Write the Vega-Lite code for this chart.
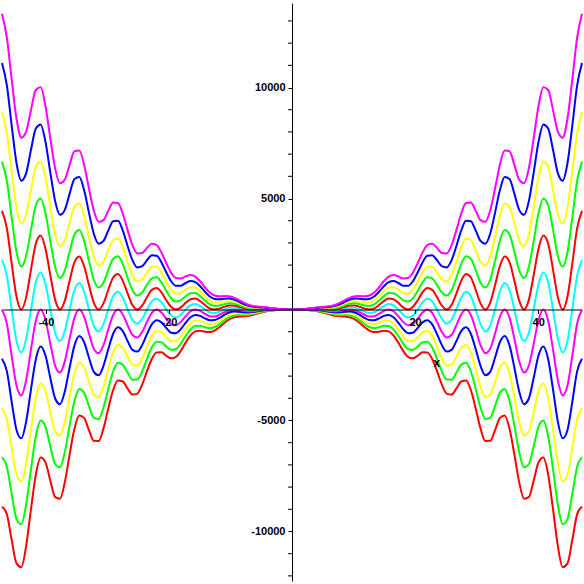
{
  "$schema": "https://vega.github.io/schema/vega-lite/v6.json",
  "width": 578,
  "height": 578,
  "padding": 3,
  "autosize": {"type": "none"},
  "background": "white",
  "config": {
    "view": {"stroke": null},
    "axis": {"grid": false, "domainColor": "black", "tickColor": "black", "labelColor": "black", "labelFont": "Liberation Sans", "labelFontWeight": "bold", "labelFontSize": 11, "title": null, "labelOverlap": false, "labelFlush": false, "zindex": 1}
  },
  "datasets": {
    "curves": [
      {"x":-47.1239,"a":-8883,"b":-6662,"c":-4441,"d":-2221,"e":0,"f":2221,"g":4441,"h":6662,"i":8883,"j":11103,"k":13324},
      {"x":-46.3385,"a":-9218,"b":-7071,"c":-4923,"d":-2776,"e":-629,"f":1518,"g":3666,"h":5813,"i":7960,"j":10107,"k":12255},
      {"x":-45.5531,"a":-10375,"b":-8300,"c":-6225,"d":-4150,"e":-2075,"f":0,"g":2075,"h":4150,"i":6225,"j":8300,"k":10375},
      {"x":-44.7677,"a":-11438,"b":-9434,"c":-7430,"d":-5425,"e":-3421,"f":-1417,"g":587,"h":2591,"i":4595,"j":6599,"k":8604},
      {"x":-43.9823,"a":-11607,"b":-9672,"c":-7738,"d":-5803,"e":-3869,"f":-1934,"g":0,"h":1934,"i":3869,"j":5803,"k":7738},
      {"x":-43.1969,"a":-10649,"b":-8783,"c":-6917,"d":-5051,"e":-3185,"f":-1319,"g":547,"h":2413,"i":4278,"j":6144,"k":8010},
      {"x":-42.4115,"a":-8994,"b":-7195,"c":-5396,"d":-3597,"e":-1799,"f":0,"g":1799,"h":3597,"i":5396,"j":7195,"k":8994},
      {"x":-41.6261,"a":-7438,"b":-5706,"c":-3973,"d":-2240,"e":-508,"f":1225,"g":2958,"h":4691,"i":6423,"j":8156,"k":9889},
      {"x":-40.8407,"a":-6672,"b":-5004,"c":-3336,"d":-1668,"e":0,"f":1668,"g":3336,"h":5004,"i":6672,"j":8340,"k":10008},
      {"x":-40.0553,"a":-6888,"b":-5283,"c":-3679,"d":-2074,"e":-470,"f":1135,"g":2739,"h":4343,"i":5948,"j":7552,"k":9157},
      {"x":-39.2699,"a":-7711,"b":-6169,"c":-4626,"d":-3084,"e":-1542,"f":0,"g":1542,"h":3084,"i":4626,"j":6169,"k":7711},
      {"x":-38.4845,"a":-8453,"b":-6972,"c":-5490,"d":-4009,"e":-2528,"f":-1047,"g":434,"h":1915,"i":3396,"j":4877,"k":6358},
      {"x":-37.6991,"a":-8527,"b":-7106,"c":-5685,"d":-4264,"e":-2842,"f":-1421,"g":0,"h":1421,"i":2842,"j":4264,"k":5685},
      {"x":-36.9137,"a":-7777,"b":-6414,"c":-5051,"d":-3689,"e":-2326,"f":-964,"g":399,"h":1762,"i":3124,"j":4487,"k":5850},
      {"x":-36.1283,"a":-6526,"b":-5221,"c":-3916,"d":-2611,"e":-1305,"f":0,"g":1305,"h":2611,"i":3916,"j":5221,"k":6526},
      {"x":-35.3429,"a":-5362,"b":-4113,"c":-2864,"d":-1615,"e":-366,"f":883,"g":2132,"h":3382,"i":4631,"j":5880,"k":7129},
      {"x":-34.5575,"a":-4777,"b":-3583,"c":-2388,"d":-1194,"e":0,"f":1194,"g":2388,"h":3583,"i":4777,"j":5971,"k":7165},
      {"x":-33.7721,"a":-4896,"b":-3756,"c":-2615,"d":-1475,"e":-334,"f":806,"g":1947,"h":3088,"i":4228,"j":5369,"k":6509},
      {"x":-32.9867,"a":-5441,"b":-4352,"c":-3264,"d":-2176,"e":-1088,"f":0,"g":1088,"h":2176,"i":3264,"j":4352,"k":5441},
      {"x":-32.2013,"a":-5918,"b":-4881,"c":-3844,"d":-2807,"e":-1770,"f":-733,"g":304,"h":1341,"i":2378,"j":3414,"k":4451},
      {"x":-31.4159,"a":-5922,"b":-4935,"c":-3948,"d":-2961,"e":-1974,"f":-987,"g":0,"h":987,"i":1974,"j":2961,"k":3948},
      {"x":-30.6305,"a":-5355,"b":-4416,"c":-3478,"d":-2540,"e":-1602,"f":-663,"g":275,"h":1213,"i":2151,"j":3089,"k":4028},
      {"x":-29.8451,"a":-4454,"b":-3563,"c":-2672,"d":-1781,"e":-891,"f":0,"g":891,"h":1781,"i":2672,"j":3563,"k":4454},
      {"x":-29.0597,"a":-3625,"b":-2781,"c":-1936,"d":-1092,"e":-247,"f":597,"g":1442,"h":2286,"i":3131,"j":3975,"k":4819},
      {"x":-28.2743,"a":-3198,"b":-2398,"c":-1599,"d":-799,"e":0,"f":799,"g":1599,"h":2398,"i":3198,"j":3997,"k":4797},
      {"x":-27.4889,"a":-3244,"b":-2488,"c":-1733,"d":-977,"e":-221,"f":534,"g":1290,"h":2046,"i":2801,"j":3557,"k":4313},
      {"x":-26.7035,"a":-3565,"b":-2852,"c":-2139,"d":-1426,"e":-713,"f":0,"g":713,"h":1426,"i":2139,"j":2852,"k":3565},
      {"x":-25.9181,"a":-3834,"b":-3162,"c":-2490,"d":-1819,"e":-1147,"f":-475,"g":197,"h":869,"i":1540,"j":2212,"k":2884},
      {"x":-25.1327,"a":-3790,"b":-3158,"c":-2527,"d":-1895,"e":-1263,"f":-632,"g":0,"h":632,"i":1263,"j":1895,"k":2527},
      {"x":-24.3473,"a":-3383,"b":-2790,"c":-2198,"d":-1605,"e":-1012,"f":-419,"g":174,"h":766,"i":1359,"j":1952,"k":2545},
      {"x":-23.5619,"a":-2776,"b":-2221,"c":-1665,"d":-1110,"e":-555,"f":0,"g":555,"h":1110,"i":1665,"j":2221,"k":2776},
      {"x":-22.7765,"a":-2227,"b":-1708,"c":-1189,"d":-671,"e":-152,"f":367,"g":886,"h":1404,"i":1923,"j":2442,"k":2961},
      {"x":-21.9911,"a":-1934,"b":-1451,"c":-967,"d":-484,"e":0,"f":484,"g":967,"h":1451,"i":1934,"j":2418,"k":2902},
      {"x":-21.2058,"a":-1930,"b":-1481,"c":-1031,"d":-581,"e":-132,"f":318,"g":768,"h":1217,"i":1667,"j":2117,"k":2566},
      {"x":-20.4204,"a":-2085,"b":-1668,"c":-1251,"d":-834,"e":-417,"f":0,"g":417,"h":834,"i":1251,"j":1668,"k":2085},
      {"x":-19.635,"a":-2200,"b":-1815,"c":-1429,"d":-1044,"e":-658,"f":-273,"g":113,"h":498,"i":884,"j":1270,"k":1655},
      {"x":-18.8496,"a":-2132,"b":-1777,"c":-1421,"d":-1066,"e":-711,"f":-355,"g":0,"h":355,"i":711,"j":1066,"k":1421},
      {"x":-18.0642,"a":-1862,"b":-1536,"c":-1210,"d":-883,"e":-557,"f":-231,"g":96,"h":422,"i":748,"j":1075,"k":1401},
      {"x":-17.2788,"a":-1493,"b":-1194,"c":-896,"d":-597,"e":-299,"f":0,"g":299,"h":597,"i":896,"j":1194,"k":1493},
      {"x":-16.4934,"a":-1168,"b":-896,"c":-624,"d":-352,"e":-80,"f":192,"g":464,"h":736,"i":1008,"j":1280,"k":1553},
      {"x":-15.708,"a":-987,"b":-740,"c":-493,"d":-247,"e":0,"f":247,"g":493,"h":740,"i":987,"j":1234,"k":1480},
      {"x":-14.9226,"a":-956,"b":-733,"c":-511,"d":-288,"e":-65,"f":157,"g":380,"h":603,"i":826,"j":1048,"k":1271},
      {"x":-14.1372,"a":-999,"b":-799,"c":-600,"d":-400,"e":-200,"f":0,"g":200,"h":400,"i":600,"j":799,"k":999},
      {"x":-13.3518,"a":-1017,"b":-839,"c":-661,"d":-483,"e":-304,"f":-126,"g":52,"h":230,"i":409,"j":587,"k":765},
      {"x":-12.5664,"a":-947,"b":-790,"c":-632,"d":-474,"e":-316,"f":-158,"g":0,"h":158,"i":316,"j":474,"k":632},
      {"x":-11.781,"a":-792,"b":-653,"c":-515,"d":-376,"e":-237,"f":-98,"g":41,"h":179,"i":318,"j":457,"k":596},
      {"x":-10.9956,"a":-605,"b":-484,"c":-363,"d":-242,"e":-121,"f":0,"g":121,"h":242,"i":363,"j":484,"k":605},
      {"x":-10.2102,"a":-448,"b":-343,"c":-239,"d":-135,"e":-31,"f":74,"g":178,"h":282,"i":386,"j":491,"k":595},
      {"x":-9.4248,"a":-355,"b":-266,"c":-178,"d":-89,"e":0,"f":89,"g":178,"h":266,"i":355,"j":444,"k":533},
      {"x":-8.6394,"a":-320,"b":-246,"c":-171,"d":-97,"e":-22,"f":53,"g":127,"h":202,"i":277,"j":351,"k":426},
      {"x":-7.854,"a":-308,"b":-247,"c":-185,"d":-123,"e":-62,"f":0,"g":62,"h":123,"i":185,"j":247,"k":308},
      {"x":-7.0686,"a":-285,"b":-235,"c":-185,"d":-135,"e":-85,"f":-35,"g":15,"h":65,"i":115,"j":165,"k":214},
      {"x":-6.2832,"a":-237,"b":-197,"c":-158,"d":-118,"e":-79,"f":-39,"g":0,"h":39,"i":79,"j":118,"k":158},
      {"x":-5.4978,"a":-172.5,"b":-142.3,"c":-112.1,"d":-81.8,"e":-51.6,"f":-21.4,"g":8.9,"h":39.1,"i":69.3,"j":99.5,"k":129.8},
      {"x":-4.7124,"a":-111,"b":-88.8,"c":-66.6,"d":-44.4,"e":-22.2,"f":0,"g":22.2,"h":44.4,"i":66.6,"j":88.8,"k":111},
      {"x":-3.927,"a":-66.2,"b":-50.8,"c":-35.4,"d":-19.9,"e":-4.5,"f":10.9,"g":26.3,"h":41.8,"i":57.2,"j":72.6,"k":88},
      {"x":-3.1416,"a":-39.5,"b":-29.6,"c":-19.7,"d":-9.9,"e":0,"f":9.9,"g":19.7,"h":29.6,"i":39.5,"j":49.3,"k":59.2},
      {"x":-2.3562,"a":-23.8,"b":-18.3,"c":-12.7,"d":-7.2,"e":-1.6,"f":3.9,"g":9.5,"h":15,"i":20.6,"j":26.1,"k":31.7},
      {"x":-1.5708,"a":-12.3,"b":-9.9,"c":-7.4,"d":-4.9,"e":-2.5,"f":0,"g":2.5,"h":4.9,"i":7.4,"j":9.9,"k":12.3},
      {"x":-0.7854,"a":-3.5,"b":-2.9,"c":-2.3,"d":-1.7,"e":-1.1,"f":-0.4,"g":0.2,"h":0.8,"i":1.4,"j":2,"k":2.6},
      {"x":0,"a":0,"b":0,"c":0,"d":0,"e":0,"f":0,"g":0,"h":0,"i":0,"j":0,"k":0},
      {"x":0.7854,"a":-3.5,"b":-2.9,"c":-2.3,"d":-1.7,"e":-1.1,"f":-0.4,"g":0.2,"h":0.8,"i":1.4,"j":2,"k":2.6},
      {"x":1.5708,"a":-12.3,"b":-9.9,"c":-7.4,"d":-4.9,"e":-2.5,"f":0,"g":2.5,"h":4.9,"i":7.4,"j":9.9,"k":12.3},
      {"x":2.3562,"a":-23.8,"b":-18.3,"c":-12.7,"d":-7.2,"e":-1.6,"f":3.9,"g":9.5,"h":15,"i":20.6,"j":26.1,"k":31.7},
      {"x":3.1416,"a":-39.5,"b":-29.6,"c":-19.7,"d":-9.9,"e":0,"f":9.9,"g":19.7,"h":29.6,"i":39.5,"j":49.3,"k":59.2},
      {"x":3.927,"a":-66.2,"b":-50.8,"c":-35.4,"d":-19.9,"e":-4.5,"f":10.9,"g":26.3,"h":41.8,"i":57.2,"j":72.6,"k":88},
      {"x":4.7124,"a":-111,"b":-88.8,"c":-66.6,"d":-44.4,"e":-22.2,"f":0,"g":22.2,"h":44.4,"i":66.6,"j":88.8,"k":111},
      {"x":5.4978,"a":-172.5,"b":-142.3,"c":-112.1,"d":-81.8,"e":-51.6,"f":-21.4,"g":8.9,"h":39.1,"i":69.3,"j":99.5,"k":129.8},
      {"x":6.2832,"a":-237,"b":-197,"c":-158,"d":-118,"e":-79,"f":-39,"g":0,"h":39,"i":79,"j":118,"k":158},
      {"x":7.0686,"a":-285,"b":-235,"c":-185,"d":-135,"e":-85,"f":-35,"g":15,"h":65,"i":115,"j":165,"k":214},
      {"x":7.854,"a":-308,"b":-247,"c":-185,"d":-123,"e":-62,"f":0,"g":62,"h":123,"i":185,"j":247,"k":308},
      {"x":8.6394,"a":-320,"b":-246,"c":-171,"d":-97,"e":-22,"f":53,"g":127,"h":202,"i":277,"j":351,"k":426},
      {"x":9.4248,"a":-355,"b":-266,"c":-178,"d":-89,"e":0,"f":89,"g":178,"h":266,"i":355,"j":444,"k":533},
      {"x":10.2102,"a":-448,"b":-343,"c":-239,"d":-135,"e":-31,"f":74,"g":178,"h":282,"i":386,"j":491,"k":595},
      {"x":10.9956,"a":-605,"b":-484,"c":-363,"d":-242,"e":-121,"f":0,"g":121,"h":242,"i":363,"j":484,"k":605},
      {"x":11.781,"a":-792,"b":-653,"c":-515,"d":-376,"e":-237,"f":-98,"g":41,"h":179,"i":318,"j":457,"k":596},
      {"x":12.5664,"a":-947,"b":-790,"c":-632,"d":-474,"e":-316,"f":-158,"g":0,"h":158,"i":316,"j":474,"k":632},
      {"x":13.3518,"a":-1017,"b":-839,"c":-661,"d":-483,"e":-304,"f":-126,"g":52,"h":230,"i":409,"j":587,"k":765},
      {"x":14.1372,"a":-999,"b":-799,"c":-600,"d":-400,"e":-200,"f":0,"g":200,"h":400,"i":600,"j":799,"k":999},
      {"x":14.9226,"a":-956,"b":-733,"c":-511,"d":-288,"e":-65,"f":157,"g":380,"h":603,"i":826,"j":1048,"k":1271},
      {"x":15.708,"a":-987,"b":-740,"c":-493,"d":-247,"e":0,"f":247,"g":493,"h":740,"i":987,"j":1234,"k":1480},
      {"x":16.4934,"a":-1168,"b":-896,"c":-624,"d":-352,"e":-80,"f":192,"g":464,"h":736,"i":1008,"j":1280,"k":1553},
      {"x":17.2788,"a":-1493,"b":-1194,"c":-896,"d":-597,"e":-299,"f":0,"g":299,"h":597,"i":896,"j":1194,"k":1493},
      {"x":18.0642,"a":-1862,"b":-1536,"c":-1210,"d":-883,"e":-557,"f":-231,"g":96,"h":422,"i":748,"j":1075,"k":1401},
      {"x":18.8496,"a":-2132,"b":-1777,"c":-1421,"d":-1066,"e":-711,"f":-355,"g":0,"h":355,"i":711,"j":1066,"k":1421},
      {"x":19.635,"a":-2200,"b":-1815,"c":-1429,"d":-1044,"e":-658,"f":-273,"g":113,"h":498,"i":884,"j":1270,"k":1655},
      {"x":20.4204,"a":-2085,"b":-1668,"c":-1251,"d":-834,"e":-417,"f":0,"g":417,"h":834,"i":1251,"j":1668,"k":2085},
      {"x":21.2058,"a":-1930,"b":-1481,"c":-1031,"d":-581,"e":-132,"f":318,"g":768,"h":1217,"i":1667,"j":2117,"k":2566},
      {"x":21.9911,"a":-1934,"b":-1451,"c":-967,"d":-484,"e":0,"f":484,"g":967,"h":1451,"i":1934,"j":2418,"k":2902},
      {"x":22.7765,"a":-2227,"b":-1708,"c":-1189,"d":-671,"e":-152,"f":367,"g":886,"h":1404,"i":1923,"j":2442,"k":2961},
      {"x":23.5619,"a":-2776,"b":-2221,"c":-1665,"d":-1110,"e":-555,"f":0,"g":555,"h":1110,"i":1665,"j":2221,"k":2776},
      {"x":24.3473,"a":-3383,"b":-2790,"c":-2198,"d":-1605,"e":-1012,"f":-419,"g":174,"h":766,"i":1359,"j":1952,"k":2545},
      {"x":25.1327,"a":-3790,"b":-3158,"c":-2527,"d":-1895,"e":-1263,"f":-632,"g":0,"h":632,"i":1263,"j":1895,"k":2527},
      {"x":25.9181,"a":-3834,"b":-3162,"c":-2490,"d":-1819,"e":-1147,"f":-475,"g":197,"h":869,"i":1540,"j":2212,"k":2884},
      {"x":26.7035,"a":-3565,"b":-2852,"c":-2139,"d":-1426,"e":-713,"f":0,"g":713,"h":1426,"i":2139,"j":2852,"k":3565},
      {"x":27.4889,"a":-3244,"b":-2488,"c":-1733,"d":-977,"e":-221,"f":534,"g":1290,"h":2046,"i":2801,"j":3557,"k":4313},
      {"x":28.2743,"a":-3198,"b":-2398,"c":-1599,"d":-799,"e":0,"f":799,"g":1599,"h":2398,"i":3198,"j":3997,"k":4797},
      {"x":29.0597,"a":-3625,"b":-2781,"c":-1936,"d":-1092,"e":-247,"f":597,"g":1442,"h":2286,"i":3131,"j":3975,"k":4819},
      {"x":29.8451,"a":-4454,"b":-3563,"c":-2672,"d":-1781,"e":-891,"f":0,"g":891,"h":1781,"i":2672,"j":3563,"k":4454},
      {"x":30.6305,"a":-5355,"b":-4416,"c":-3478,"d":-2540,"e":-1602,"f":-663,"g":275,"h":1213,"i":2151,"j":3089,"k":4028},
      {"x":31.4159,"a":-5922,"b":-4935,"c":-3948,"d":-2961,"e":-1974,"f":-987,"g":0,"h":987,"i":1974,"j":2961,"k":3948},
      {"x":32.2013,"a":-5918,"b":-4881,"c":-3844,"d":-2807,"e":-1770,"f":-733,"g":304,"h":1341,"i":2378,"j":3414,"k":4451},
      {"x":32.9867,"a":-5441,"b":-4352,"c":-3264,"d":-2176,"e":-1088,"f":0,"g":1088,"h":2176,"i":3264,"j":4352,"k":5441},
      {"x":33.7721,"a":-4896,"b":-3756,"c":-2615,"d":-1475,"e":-334,"f":806,"g":1947,"h":3088,"i":4228,"j":5369,"k":6509},
      {"x":34.5575,"a":-4777,"b":-3583,"c":-2388,"d":-1194,"e":0,"f":1194,"g":2388,"h":3583,"i":4777,"j":5971,"k":7165},
      {"x":35.3429,"a":-5362,"b":-4113,"c":-2864,"d":-1615,"e":-366,"f":883,"g":2132,"h":3382,"i":4631,"j":5880,"k":7129},
      {"x":36.1283,"a":-6526,"b":-5221,"c":-3916,"d":-2611,"e":-1305,"f":0,"g":1305,"h":2611,"i":3916,"j":5221,"k":6526},
      {"x":36.9137,"a":-7777,"b":-6414,"c":-5051,"d":-3689,"e":-2326,"f":-964,"g":399,"h":1762,"i":3124,"j":4487,"k":5850},
      {"x":37.6991,"a":-8527,"b":-7106,"c":-5685,"d":-4264,"e":-2842,"f":-1421,"g":0,"h":1421,"i":2842,"j":4264,"k":5685},
      {"x":38.4845,"a":-8453,"b":-6972,"c":-5490,"d":-4009,"e":-2528,"f":-1047,"g":434,"h":1915,"i":3396,"j":4877,"k":6358},
      {"x":39.2699,"a":-7711,"b":-6169,"c":-4626,"d":-3084,"e":-1542,"f":0,"g":1542,"h":3084,"i":4626,"j":6169,"k":7711},
      {"x":40.0553,"a":-6888,"b":-5283,"c":-3679,"d":-2074,"e":-470,"f":1135,"g":2739,"h":4343,"i":5948,"j":7552,"k":9157},
      {"x":40.8407,"a":-6672,"b":-5004,"c":-3336,"d":-1668,"e":0,"f":1668,"g":3336,"h":5004,"i":6672,"j":8340,"k":10008},
      {"x":41.6261,"a":-7438,"b":-5706,"c":-3973,"d":-2240,"e":-508,"f":1225,"g":2958,"h":4691,"i":6423,"j":8156,"k":9889},
      {"x":42.4115,"a":-8994,"b":-7195,"c":-5396,"d":-3597,"e":-1799,"f":0,"g":1799,"h":3597,"i":5396,"j":7195,"k":8994},
      {"x":43.1969,"a":-10649,"b":-8783,"c":-6917,"d":-5051,"e":-3185,"f":-1319,"g":547,"h":2413,"i":4278,"j":6144,"k":8010},
      {"x":43.9823,"a":-11607,"b":-9672,"c":-7738,"d":-5803,"e":-3869,"f":-1934,"g":0,"h":1934,"i":3869,"j":5803,"k":7738},
      {"x":44.7677,"a":-11438,"b":-9434,"c":-7430,"d":-5425,"e":-3421,"f":-1417,"g":587,"h":2591,"i":4595,"j":6599,"k":8604},
      {"x":45.5531,"a":-10375,"b":-8300,"c":-6225,"d":-4150,"e":-2075,"f":0,"g":2075,"h":4150,"i":6225,"j":8300,"k":10375},
      {"x":46.3385,"a":-9218,"b":-7071,"c":-4923,"d":-2776,"e":-629,"f":1518,"g":3666,"h":5813,"i":7960,"j":10107,"k":12255},
      {"x":47.1239,"a":-8883,"b":-6662,"c":-4441,"d":-2221,"e":0,"f":2221,"g":4441,"h":6662,"i":8883,"j":11103,"k":13324}
    ],
    "lbl": [{"x": 23.53, "y": -2424, "t": "x"}],
    "yticks": [
      {"x": 0, "y": -12000}, {"x": 0, "y": -11000}, {"x": 0, "y": -9000}, {"x": 0, "y": -8000}, {"x": 0, "y": -7000},
      {"x": 0, "y": -6000}, {"x": 0, "y": -4000}, {"x": 0, "y": -3000}, {"x": 0, "y": -2000}, {"x": 0, "y": -1000},
      {"x": 0, "y": 1000}, {"x": 0, "y": 2000}, {"x": 0, "y": 3000}, {"x": 0, "y": 4000}, {"x": 0, "y": 6000},
      {"x": 0, "y": 7000}, {"x": 0, "y": 8000}, {"x": 0, "y": 9000}, {"x": 0, "y": 11000}, {"x": 0, "y": 12000}, {"x": 0, "y": 13000}
    ]
  },
  "layer": [
    {
      "data": {"name": "curves"},
      "transform": [{"fold": ["a","b","c","d","e","f","g","h","i","j","k"], "as": ["curve", "y"]}],
      "mark": {"type": "line", "interpolate": "monotone", "strokeWidth": 2, "clip": false},
      "encoding": {
        "x": {"field": "x", "type": "quantitative",
          "scale": {"domain": [-46.96, 46.96], "nice": false, "zero": false},
          "axis": {"values": [-40, -20, 20, 40], "labelExpr": "'' + datum.value", "offset": -271.5, "tickSize": 4, "labelPadding": 3, "title": null, "labelFlush": false, "labelOverlap": false, "zindex": 1}},
        "y": {"field": "y", "type": "quantitative",
          "scale": {"domain": [-12231, 13808], "nice": false, "zero": false},
          "axis": {"values": [-10000, -5000, 5000, 10000], "labelExpr": "'' + datum.value", "offset": -289, "tickSize": 4, "labelPadding": 3, "title": null, "labelFlush": false, "labelOverlap": false, "zindex": 1}},
        "color": {"field": "curve", "type": "nominal",
          "scale": {"domain": ["a","b","c","d","e","f","g","h","i","j","k"],
            "range": ["#ff0000","#00ff00","#ffff00","#0000ff","#ff00ff","#00ffff","#ff0000","#00ff00","#ffff00","#0000ff","#ff00ff"]},
          "legend": null}
      }
    },
    {
      "data": {"name": "yticks"},
      "mark": {"type": "tick", "orient": "horizontal", "size": 4, "thickness": 1, "color": "black", "xOffset": -2, "opacity": 1},
      "encoding": {
        "x": {"field": "x", "type": "quantitative"},
        "y": {"field": "y", "type": "quantitative"}
      }
    },
    {
      "data": {"name": "lbl"},
      "mark": {"type": "text", "font": "Liberation Sans", "fontWeight": "bold", "fontSize": 12, "baseline": "middle", "align": "center", "color": "black"},
      "encoding": {
        "x": {"field": "x", "type": "quantitative"},
        "y": {"field": "y", "type": "quantitative"},
        "text": {"field": "t"}
      }
    }
  ]
}
